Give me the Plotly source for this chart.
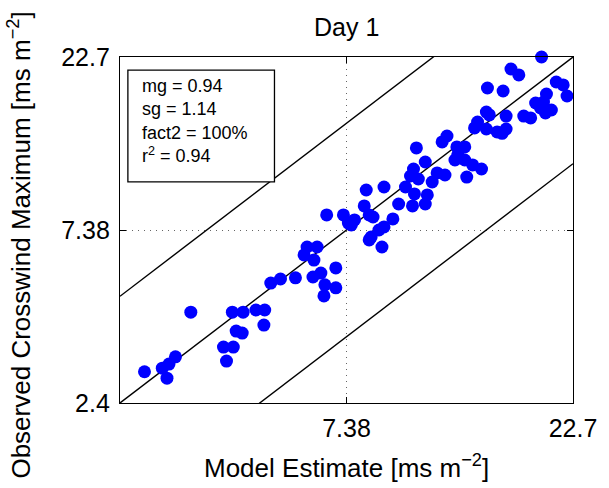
import numpy as np
import plotly.graph_objects as go

# ---- data ----
model = [2.71, 2.96, 3.06, 3.16, 3.03, 3.41, 3.35, 4.01, 4.21, 4.07,
         4.19, 4.42, 4.27, 4.40, 4.71, 4.92, 4.90, 5.07, 5.32, 5.73,
         6.07, 6.38, 5.98, 6.28, 6.25, 6.50, 6.63, 6.60, 7.00, 7.00,
         6.69, 7.27, 7.45, 7.68, 7.56, 8.14, 8.89, 8.06, 8.26, 8.42,
         9.29, 8.89, 8.67, 8.34, 8.26, 8.80, 9.56, 10.24, 10.91, 10.34,
         11.02, 9.89, 10.14, 10.29, 10.54, 10.44, 10.91, 11.29, 11.57, 12.03,
         11.86, 12.15, 12.76, 12.82, 12.64, 13.27, 13.80, 14.42, 13.40, 19.42,
         16.69, 17.35, 14.85, 16.05, 20.89, 21.62, 22.04, 19.90, 18.86, 19.61,
         19.32, 20.39, 19.80, 17.78, 18.40, 14.77, 14.99, 16.29, 14.14, 13.93,
         14.77, 15.58, 16.29, 13.27, 15.97]
observed = [2.94, 3.01, 3.09, 3.24, 2.82, 4.33, 2.40, 3.45, 3.45, 3.15,
            4.33, 4.33, 3.83, 3.78, 4.39, 4.39, 3.98, 5.23, 5.37, 5.41,
            6.61, 6.61, 6.28, 6.07, 5.44, 5.58, 5.17, 4.81, 5.77, 5.07,
            8.14, 8.14, 7.72, 7.88, 7.63, 9.57, 9.76, 8.63, 8.14, 8.03,
            7.93, 7.53, 7.38, 7.05, 6.92, 6.61, 8.74, 8.63, 8.74, 9.33,
            9.27, 9.76, 10.48, 10.97, 10.28, 12.58, 11.48, 10.08, 10.69, 10.55,
            13.08, 13.59, 12.66, 12.01, 11.63, 11.63, 11.26, 10.97, 10.41, 22.70,
            21.00, 20.20, 18.56, 18.20, 19.30, 18.93, 17.62, 17.85, 16.84, 16.95,
            16.30, 16.09, 15.78, 15.47, 15.28, 15.88, 15.58, 15.47, 14.88, 14.32,
            14.22, 13.95, 14.22, 12.66, 13.83]

axis_min, axis_mid, axis_max = 2.4, 7.38, 22.7
x_tick_vals = [2.4, 7.38, 22.7]
x_tick_text = ["", "7.38", "22.7"]
y_tick_vals = [2.4, 7.38, 22.7]
y_tick_text = ["2.4", "7.38", "22.7"]
stats_lines = ["mg = 0.94", "sg = 1.14", "fact2 = 100%", "r<sup>2</sup> = 0.94"]
title_text = "Day 1"
x_title = "Model Estimate [ms m<sup>\u22122</sup>]"
y_title = "Observed Crosswind Maximum [ms m<sup>\u22122</sup>]"

FONT = "Liberation Sans, Arial, Helvetica, sans-serif"

fig = go.Figure()

# reference lines: 1:1, factor-of-two
rng = np.array([axis_min, axis_max])
line_style = dict(color="black", width=1.4)
fig.add_trace(go.Scatter(x=rng, y=rng, mode="lines", line=line_style,
                         hoverinfo="skip", showlegend=False))
fig.add_trace(go.Scatter(x=rng, y=2 * rng, mode="lines", line=line_style,
                         hoverinfo="skip", showlegend=False))
fig.add_trace(go.Scatter(x=rng, y=rng / 2, mode="lines", line=line_style,
                         hoverinfo="skip", showlegend=False))

fig.add_trace(go.Scatter(x=model, y=observed, mode="markers",
                         marker=dict(color="rgb(0,0,255)", size=13, line=dict(width=0)),
                         cliponaxis=False, showlegend=False))

axis_common = dict(
    type="log",
    range=[np.log10(axis_min), np.log10(axis_max)],
    showline=True, linecolor="black", linewidth=1.3, mirror="ticks",
    ticks="inside", ticklen=6, tickcolor="black", tickwidth=1,
    showgrid=True, gridcolor="rgba(0,0,0,0.6)", gridwidth=1, griddash="1px,5px",
    zeroline=False,
    tickfont=dict(family=FONT, size=25, color="black"),
)
fig.update_xaxes(**axis_common, tickvals=x_tick_vals, ticktext=x_tick_text,
                 ticklabelstandoff=3)
fig.update_yaxes(**axis_common, tickvals=y_tick_vals, ticktext=y_tick_text,
                 ticklabelstandoff=4)

# stats box
fig.add_shape(type="rect", xref="paper", yref="paper",
              x0=0.0174, x1=0.341, y0=0.639, y1=0.962,
              line=dict(color="black", width=1.3), fillcolor="white", layer="above")
fig.add_annotation(xref="paper", yref="paper", x=0.045, y=0.815,
                   xanchor="left", yanchor="middle", align="left",
                   text="<br>".join(stats_lines), showarrow=False,
                   font=dict(family=FONT, size=18, color="black"))

# titles
fig.add_annotation(xref="paper", yref="paper", x=0.5, y=1.0, yshift=30,
                   xanchor="center", yanchor="middle", text=title_text,
                   showarrow=False, font=dict(family=FONT, size=25, color="black"))
fig.add_annotation(xref="paper", yref="paper", x=0.5, y=0.0, yshift=-63,
                   xanchor="center", yanchor="middle", text=x_title,
                   showarrow=False, font=dict(family=FONT, size=26, color="black"))
fig.add_annotation(xref="paper", yref="paper", x=0.0, xshift=-100, y=0.455,
                   xanchor="center", yanchor="middle", textangle=-90, text=y_title,
                   showarrow=False, font=dict(family=FONT, size=26, color="black"))

fig.update_layout(
    width=609, height=488, autosize=False,
    margin=dict(l=120, r=29, t=57, b=85),
    paper_bgcolor="white", plot_bgcolor="white",
    showlegend=False,
)

fig.write_html("out.html")
